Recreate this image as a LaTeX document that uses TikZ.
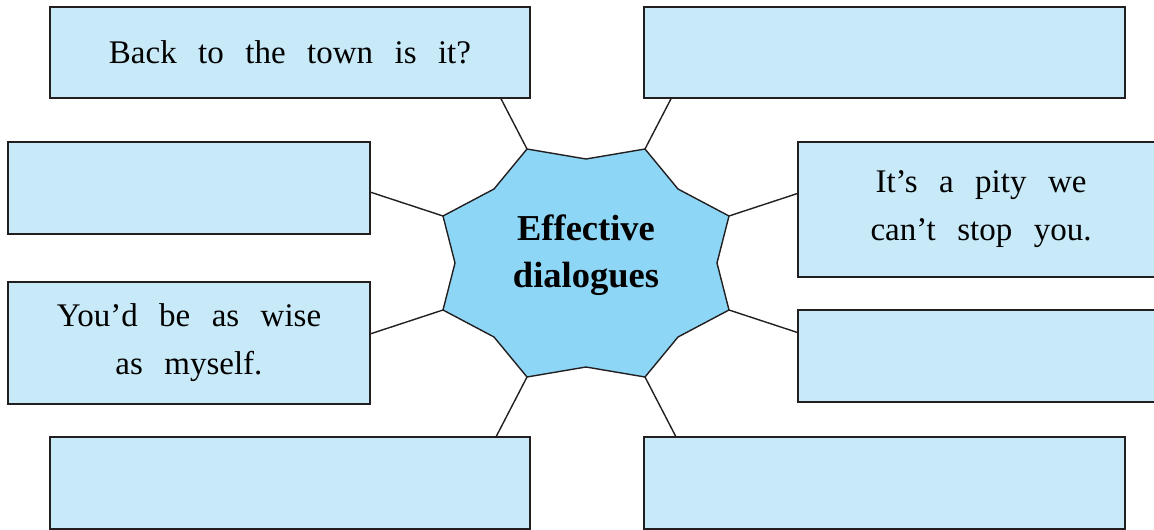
\documentclass[tikz,border=0pt]{standalone}
\usepackage{fontspec}
\setmainfont{Liberation Serif}[WordSpace=2.6]
\usetikzlibrary{calc}

\definecolor{boxblue}{RGB}{200,234,248}
\definecolor{starblue}{RGB}{141,214,245}
\definecolor{inkgray}{RGB}{35,31,32}

\tikzset{
  answer/.style={draw=inkgray, line width=1.4pt, fill=boxblue, inner sep=0pt,
    align=center, font=\fontsize{33}{48}\selectfont},
  spoke/.style={draw=inkgray, line width=1.4pt}
}

\begin{document}
\begin{tikzpicture}[x=1pt, y=-1pt]
  \useasboundingbox (0,0) rectangle (1154,530);
  % centre shape
  \draw[draw=inkgray, line width=1.4pt, fill=starblue]
    (527,149) coordinate (v1) -- (586,159) -- (645,149) coordinate (v2) -- (678,189)
    -- (729,216) coordinate (v3) -- (717,263) -- (729,310) coordinate (v4) -- (678,337)
    -- (645,377) coordinate (v5) -- (586,367) -- (527,377) coordinate (v6) -- (494,337)
    -- (443,310) coordinate (v7) -- (455,263) -- (443,216) coordinate (v8) -- (494,189)
    -- cycle;
  \coordinate (c) at (586,263);
  \node[font=\fontsize{36.5}{47}\selectfont\bfseries, align=center] (topic) at (586,255)
    {Effective\\dialogues};

  % spokes, the boxes cover their far ends
  \foreach \v in {1,...,8}
    \draw[spoke] (v\v) -- ($(c)!1.6!(v\v)$) coordinate (e\v);

  % boxes
  \node[answer, minimum width=480pt, minimum height=91pt] (tl) at (290,52.5)
    {Back to the town is it?};
  \node[answer, minimum width=481pt, minimum height=91pt] (tr) at (884.5,52.5) {};
  \node[answer, minimum width=362pt, minimum height=92pt] (lu) at (189,188) {};
  \node[answer, minimum width=366pt, minimum height=135pt] (ru) at (981,209.5)
    {It’s a pity we\\can’t stop you.};
  \node[answer, minimum width=362pt, minimum height=122pt] (ll) at (189,343)
    {You’d be as wise\\as myself.};
  \node[answer, minimum width=366pt, minimum height=92pt] (rl) at (981,356) {};
  \node[answer, minimum width=480pt, minimum height=92pt] (bl) at (290,483) {};
  \node[answer, minimum width=481pt, minimum height=92pt] (br) at (884.5,483) {};
\end{tikzpicture}
\end{document}
